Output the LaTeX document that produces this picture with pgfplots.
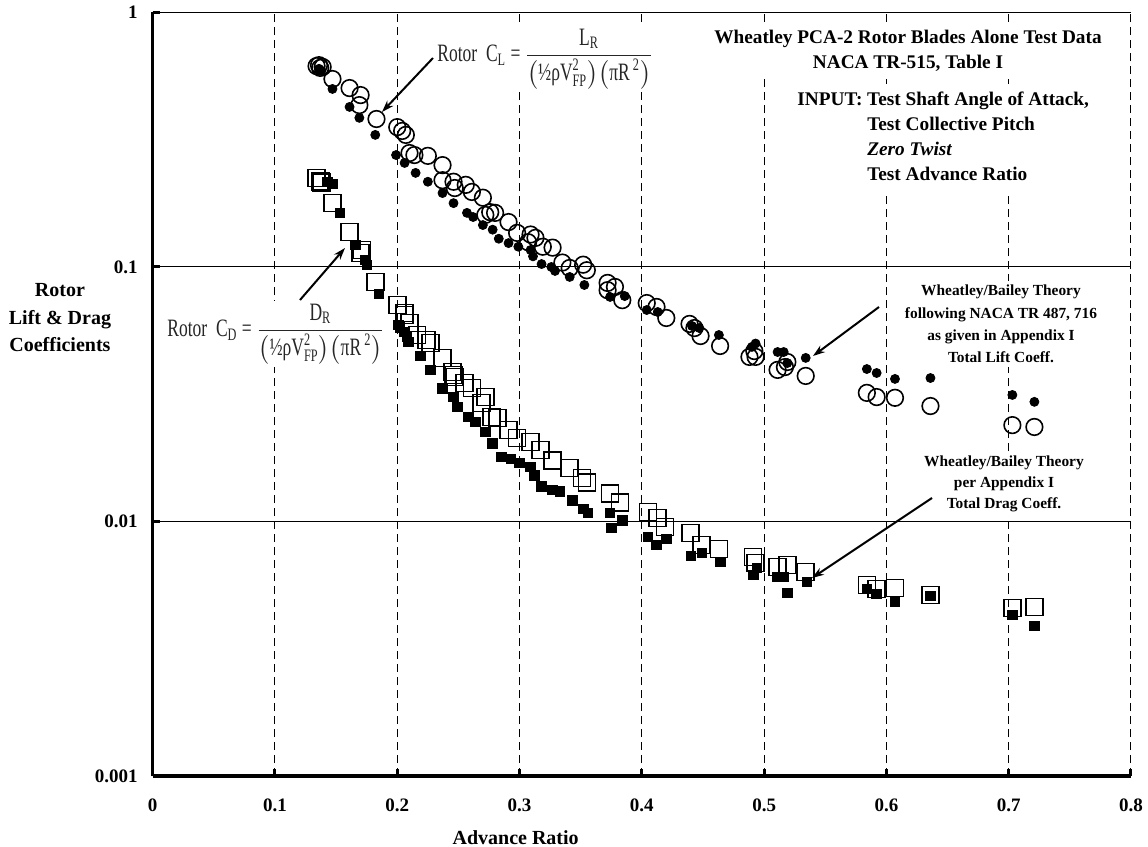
\documentclass[border=0pt]{standalone}
\usepackage{amsmath}
\usepackage{fontspec}
\setmainfont{Liberation Serif}
\newfontfamily\condfont[FakeStretch=0.7]{Liberation Serif}
\usepackage{pgfplots}
\pgfplotsset{compat=1.18}
\usetikzlibrary{arrows.meta}
\begin{document}
\begin{tikzpicture}
\useasboundingbox (-76.35pt,-35.5pt) rectangle (497.65pt,388pt);
\begin{axis}[
  scale only axis, width=489.15pt, height=381.85pt,
  at={(0pt,0pt)}, anchor=south west,
  xmin=0, xmax=0.8, ymode=log, ymin=0.001, ymax=1,
  axis x line*=bottom, axis y line*=left,
  axis line style={line width=1.8pt, -},
  xtick={0,0.1,0.2,0.3,0.4,0.5,0.6,0.7,0.8},
  xticklabels={0,0.1,0.2,0.3,0.4,0.5,0.6,0.7,0.8},
  ytick={0.001,0.01,0.1,1},
  yticklabels={0.001,0.01,0.1,1},
  yminorticks=false,
  grid=major,
  x grid style={dash pattern=on 4pt off 2.5pt, line width=0.5pt, black},
  y grid style={line width=0.5pt, black},
  tick align=inside, major tick length=3.5pt,
  tick style={line width=1.5pt, black},
  ticklabel style={font=\fontsize{9.5}{11}\selectfont\bfseries},
  yticklabel style={xshift=-4pt},
  xticklabel style={yshift=-8pt},
  xlabel={Advance Ratio},
  xlabel style={at={(axis description cs:0.371,-0.0812)}, anchor=center, font=\fontsize{10}{12}\selectfont\bfseries},
  ylabel={Rotor\\Lift \& Drag\\Coefficients},
  ylabel style={rotate=-90, align=center, at={(axis description cs:-0.0948,0.5997)}, anchor=center, font=\fontsize{10}{13.75}\selectfont\bfseries},
]
% Test lift (open circles)
\addplot[only marks, mark=o, mark size=4.15pt, mark options={line width=0.8pt, draw=black}] coordinates {
(0.134,0.615)(0.136,0.620)(0.137,0.605)(0.139,0.610)(0.147,0.547)(0.161,0.504)(0.170,0.473)(0.169,0.432)
(0.183,0.381)(0.200,0.354)(0.204,0.342)(0.207,0.330)(0.210,0.280)(0.214,0.275)(0.225,0.273)(0.237,0.251)
(0.237,0.219)(0.246,0.216)(0.247,0.204)(0.256,0.210)(0.261,0.197)(0.270,0.187)(0.276,0.164)(0.280,0.163)
(0.272,0.160)(0.291,0.150)(0.298,0.136)(0.309,0.134)(0.307,0.125)(0.313,0.130)(0.319,0.120)(0.327,0.119)
(0.335,0.104)(0.341,0.099)(0.352,0.102)(0.355,0.097)(0.372,0.0865)(0.372,0.081)(0.378,0.0834)(0.384,0.074)
(0.404,0.0721)(0.412,0.0696)(0.420,0.063)(0.439,0.0597)(0.443,0.0575)(0.448,0.0535)(0.464,0.0489)
(0.488,0.0443)(0.493,0.0443)(0.492,0.0467)(0.511,0.0394)(0.517,0.0404)(0.519,0.0423)(0.534,0.0373)
(0.584,0.0320)(0.592,0.0308)(0.607,0.0306)(0.636,0.0284)(0.703,0.0239)(0.721,0.0235)
};
% Test drag (open squares)
\addplot[only marks, mark=square, mark size=4.25pt, mark options={line width=0.8pt, draw=black}] coordinates {
(0.134,0.2235)(0.137,0.216)(0.138,0.214)(0.147,0.178)(0.161,0.137)(0.170,0.1135)(0.171,0.1165)(0.182,0.0873)
(0.200,0.0709)(0.206,0.0659)(0.206,0.0647)(0.210,0.0602)(0.216,0.0540)(0.224,0.0516)(0.227,0.0502)
(0.237,0.0439)(0.245,0.0387)(0.246,0.0376)(0.247,0.0369)(0.255,0.0350)(0.261,0.0334)(0.272,0.0308)(0.269,0.0292)
(0.277,0.0257)(0.282,0.0255)(0.291,0.0229)(0.298,0.0213)(0.309,0.0205)(0.317,0.0191)(0.327,0.0174)
(0.341,0.0162)(0.351,0.0148)(0.355,0.0142)(0.374,0.0129)(0.382,0.0119)(0.405,0.0109)(0.413,0.0103)
(0.419,0.00951)(0.440,0.00901)(0.449,0.00809)(0.463,0.00780)(0.491,0.00725)(0.493,0.00687)(0.511,0.00663)
(0.519,0.00675)(0.534,0.00633)(0.584,0.00563)(0.592,0.00543)(0.607,0.00548)(0.636,0.00514)(0.703,0.00457)(0.721,0.00461)
};
% Theory lift (filled circles)
\addplot[only marks, mark=*, mark size=2.25pt, mark options={fill=black, draw=black}] coordinates {
(0.136,0.600)(0.138,0.590)(0.147,0.500)(0.161,0.425)(0.169,0.385)(0.182,0.330)(0.199,0.275)(0.206,0.256)
(0.215,0.234)(0.225,0.216)(0.237,0.195)(0.246,0.178)(0.257,0.163)(0.262,0.157)(0.270,0.146)(0.278,0.140)
(0.283,0.129)(0.291,0.124)(0.299,0.120)(0.309,0.1165)(0.311,0.110)(0.318,0.1026)(0.326,0.0999)(0.329,0.0964)
(0.341,0.0913)(0.353,0.0849)(0.374,0.0762)(0.386,0.0768)(0.404,0.0677)(0.413,0.0665)(0.441,0.0586)
(0.447,0.0575)(0.463,0.0540)(0.490,0.0485)(0.493,0.0500)(0.511,0.0463)(0.516,0.0463)(0.519,0.0419)
(0.534,0.0439)(0.584,0.0397)(0.592,0.0383)(0.607,0.0363)(0.636,0.0366)(0.703,0.0314)(0.721,0.0295)
};
% Theory drag (filled squares)
\addplot[only marks, mark=square*, mark size=2.4pt, mark options={fill=black, draw=black}] coordinates {
(0.143,0.216)(0.147,0.212)(0.153,0.163)(0.166,0.122)(0.174,0.1064)(0.175,0.1017)(0.185,0.0782)(0.201,0.0591)
(0.206,0.0555)(0.209,0.0507)(0.202,0.0580)(0.208,0.0530)(0.219,0.0447)(0.227,0.0394)(0.237,0.0334)
(0.246,0.0308)(0.249,0.0282)(0.258,0.0257)(0.264,0.0246)(0.272,0.0225)(0.278,0.0203)(0.285,0.0179)
(0.293,0.0176)(0.300,0.0170)(0.309,0.0164)(0.312,0.0152)(0.318,0.0137)(0.327,0.0133)(0.333,0.0131)
(0.343,0.0121)(0.352,0.0112)(0.356,0.0108)(0.374,0.0108)(0.375,0.00943)(0.384,0.0101)(0.405,0.00869)
(0.412,0.00809)(0.420,0.00853)(0.440,0.00732)(0.449,0.00752)(0.464,0.00693)(0.491,0.00616)(0.494,0.00657)
(0.511,0.00605)(0.516,0.00605)(0.519,0.00524)(0.535,0.00579)(0.584,0.00543)(0.592,0.00519)(0.607,0.00483)
(0.636,0.00510)(0.703,0.00429)(0.721,0.00389)
};
\end{axis}
% annotations (white boxes hide the grid behind them, as in the reference)
\node[align=center, fill=white, inner sep=2pt, font=\fontsize{9.65}{12.5}\selectfont\bfseries] at (377.65pt,362.75pt)
  {Wheatley PCA-2 Rotor Blades Alone Test Data\\NACA TR-515, Table I};
\node[anchor=base west, fill=white, inner sep=2pt, font=\fontsize{9.65}{12.5}\selectfont\bfseries] at (320.15pt,335pt)
  {\begin{tabular}[t]{@{}l@{ }l@{}}INPUT: & Test Shaft Angle of Attack,\\ & Test Collective Pitch\\ & \textit{Zero Twist}\\ & Test Advance Ratio\end{tabular}};
\node[align=center, fill=white, inner sep=2pt, font=\fontsize{7.7}{11.2}\selectfont\bfseries] at (424.15pt,226pt)
  {Wheatley/Bailey Theory\\following NACA TR 487, 716\\as given in Appendix I\\Total Lift Coeff.};
\node[align=center, fill=white, inner sep=2pt, font=\fontsize{7.7}{10.5}\selectfont\bfseries] at (425.65pt,146pt)
  {Wheatley/Bailey Theory\\per Appendix I\\Total Drag Coeff.};
\node[anchor=base west, fill=white, inner sep=1.5pt, text=black!85] at (140.65pt,357.25pt)
  {\condfont\fontsize{12.5}{14}\selectfont Rotor\ \ C$_{\text{L}}$ = $\dfrac{\text{L}_{\text{R}}}{\bigl(\text{½ρV}^{\text{2}}_{\text{FP}}\bigr)\bigl(\text{πR}^{\,\text{2}}\bigr)}$};
\node[anchor=base west, fill=white, inner sep=1.5pt, text=black!85] at (5.65pt,219.75pt)
  {\condfont\fontsize{12.5}{14}\selectfont Rotor\ \ C$_{\text{D}}$ = $\dfrac{\text{D}_{\text{R}}}{\bigl(\text{½ρV}^{\text{2}}_{\text{FP}}\bigr)\bigl(\text{πR}^{\,\text{2}}\bigr)}$};
\draw[line width=1pt, -{Stealth[length=6pt,width=4pt]}] (363.15pt,234.5pt) -- (330.15pt,210pt);
\draw[line width=1pt, -{Stealth[length=6pt,width=4pt]}] (389.65pt,139pt) -- (329.65pt,99pt);
\draw[line width=1pt, -{Stealth[length=6pt,width=4pt]}] (140.15pt,359pt) -- (114.65pt,332pt);
\draw[line width=1pt, -{Stealth[length=6pt,width=4pt]}] (73.65pt,238pt) -- (96.15pt,264pt);
\end{tikzpicture}
\end{document}
